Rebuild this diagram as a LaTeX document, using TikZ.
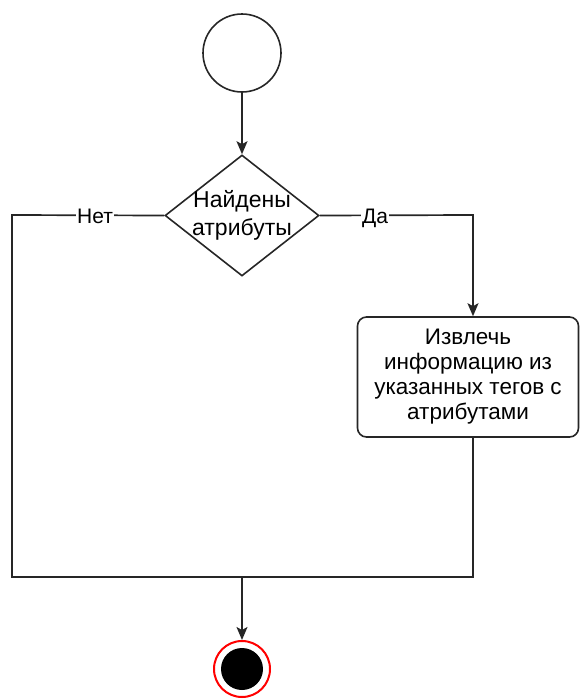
\documentclass[tikz,border=0pt]{standalone}
\usepackage{fontspec}
\setmainfont{Liberation Sans}
\usetikzlibrary{shapes.geometric,arrows.meta}
\begin{document}
\begin{tikzpicture}[x=1pt,y=-1pt,
  txt/.style={font=\fontsize{22.5}{25}\selectfont},
  conn/.style={line width=1.7pt,draw=black!85},
  arr/.style={conn,-{Stealth[width=11pt,length=13pt,inset=3pt]}},
  lbl/.style={fill=white,inner sep=1pt,font=\fontsize{21}{22}\selectfont},
]
\useasboundingbox (0,0) rectangle (579,699);
\node[circle,draw=black!85,line width=1.6pt,minimum size=78pt,inner sep=0] (start) at (242,53) {};
\node[diamond,draw=black!85,line width=1.6pt,minimum width=154pt,minimum height=121pt,inner sep=-20pt,align=center,aspect=1.27,font=\fontsize{23}{28}\selectfont] (dec) at (242,215.5) {Найдены\\атрибуты};
\node[txt,draw=black!85,line width=1.6pt,rounded corners=9pt,minimum width=221pt,minimum height=120pt,align=center,inner sep=0] (act) at (468,377) {Извлечь\\информацию из\\указанных тегов с\\атрибутами};
\node[circle,draw=red,line width=2pt,minimum size=56pt,inner sep=0] (end) at (242,669) {};
\node[circle,fill=black,minimum size=42pt,inner sep=0] at (end) {};
\coordinate (lc) at (12,215);
\coordinate (rc) at (473,215);
\coordinate (bl) at (12,577);
\coordinate (br) at (473,577);
\coordinate (bm) at (242,577);
\draw[arr] (start) -- (dec.north);
\draw[conn] (dec.west) -- (lc) -- (bl) -- (br) -- (act.south -| br);
\draw[arr] (dec.east) -- (rc) -- (act.north -| rc);
\draw[arr] (bm) -- (end);
\node[lbl] at (95,216) {Нет};
\node[lbl] at (375,218) {Да};
\end{tikzpicture}
\end{document}
